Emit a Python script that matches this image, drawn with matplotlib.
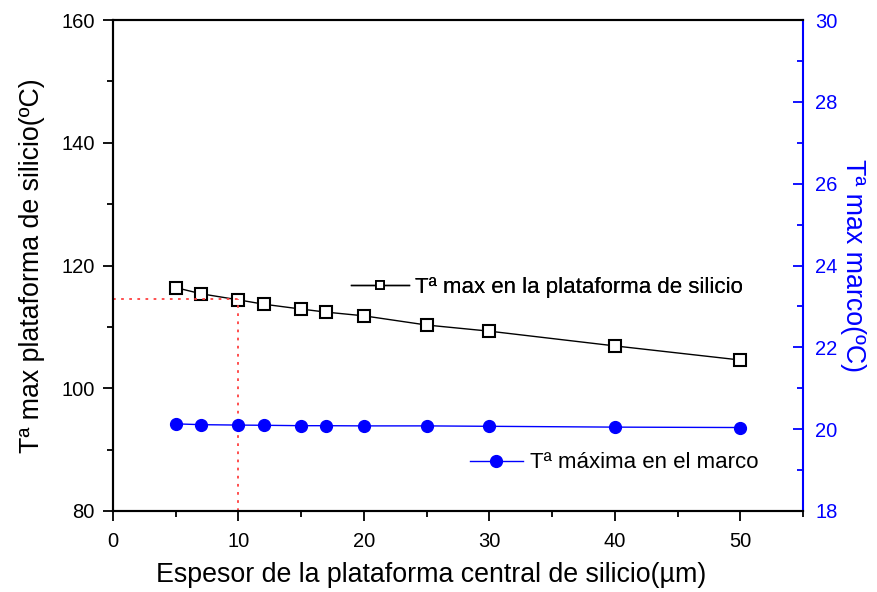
import matplotlib
matplotlib.use("Agg")
import matplotlib.pyplot as plt
from matplotlib.lines import Line2D
from matplotlib.ticker import MultipleLocator

plt.rcParams['font.family'] = ['Liberation Sans', 'DejaVu Sans']

# Platform thickness (µm)
espesor = [5, 7, 10, 12, 15, 17, 20, 25, 30, 40, 50]
# Maximum temperature on the silicon platform (ºC)
t_plataforma = [116.4, 115.4, 114.4, 113.7, 112.9, 112.4, 111.8, 110.3, 109.3, 106.9, 104.6]
# Maximum temperature on the frame (ºC)
t_marco = [20.13, 20.11, 20.10, 20.095, 20.085, 20.085, 20.08, 20.08, 20.07, 20.05, 20.04]

# Reference point marked with dotted guide lines
ref_x = 10
ref_y = 114.5

BLUE = '#0000ff'

fig = plt.figure(figsize=(8.77, 5.92), dpi=100)
ax = fig.add_axes([113 / 877, 1 - 511 / 592, (803 - 113) / 877, (511 - 20) / 592])
ax2 = ax.twinx()

ax.plot(espesor, t_plataforma, color='black', lw=1, marker='s', ms=8.5,
        mfc='white', mec='black', mew=1.5)
ax.plot([0, ref_x], [ref_y, ref_y], color='#ff4040', ls=(0, (1.5, 3)), lw=1.3)
ax.plot([ref_x, ref_x], [80, ref_y], color='#ff4040', ls=(0, (1.5, 3)), lw=1.3)

ax2.plot(espesor, t_marco, color=BLUE, lw=1, marker='o', ms=8.5,
         mfc=BLUE, mec=BLUE)

ax.set_xlim(0, 55)
ax.set_ylim(80, 160)
ax2.set_ylim(18, 30)

ax.xaxis.set_major_locator(MultipleLocator(10))
ax.xaxis.set_minor_locator(MultipleLocator(5))
ax.yaxis.set_major_locator(MultipleLocator(20))
ax.yaxis.set_minor_locator(MultipleLocator(10))
ax2.yaxis.set_major_locator(MultipleLocator(2))
ax2.yaxis.set_minor_locator(MultipleLocator(1))

ax.tick_params(axis='both', which='major', direction='out', length=7, width=1.3,
               labelsize=14.5, colors='black')
ax.tick_params(axis='x', which='major', pad=8)
ax.tick_params(axis='y', which='major', pad=6)
ax.tick_params(axis='both', which='minor', direction='out', length=4, width=1.3)
ax.tick_params(axis='y', right=False)
ax.tick_params(axis='x', top=False, which='both')
ax2.tick_params(axis='y', which='major', direction='in', length=7, width=1.3,
                labelsize=14.5, colors=BLUE, pad=9)
ax2.tick_params(axis='y', which='minor', direction='in', length=4, width=1.3,
                colors=BLUE)

for s in ['left', 'bottom', 'top']:
    ax.spines[s].set_linewidth(1.5)
    ax2.spines[s].set_linewidth(1.5)
ax2.spines['right'].set_color(BLUE)
ax2.spines['right'].set_linewidth(1.5)
ax.spines['right'].set_visible(False)

ax.set_xlabel('Espesor de la plataforma central de silicio(µm)', fontsize=19.3)
ax.xaxis.set_label_coords(0.461, -0.103)
ax.set_ylabel('Tª max plataforma de silicio(ºC)', fontsize=19.3, labelpad=12)
ax2.set_ylabel('Tª max marco(ºC)', fontsize=19.3, color=BLUE, rotation=270,
               labelpad=20)

h1 = Line2D([], [], color='black', lw=1, marker='s', ms=6, mfc='white',
            mec='black', mew=1.3)
h2 = Line2D([], [], color=BLUE, lw=1, marker='o', ms=8.5, mfc=BLUE, mec=BLUE)

leg1 = ax.legend([h1], ['Tª max en la plataforma de silicio'], loc='center left',
                 bbox_to_anchor=(0.345, 0.455), frameon=False, fontsize=16,
                 handlelength=2.6, handletextpad=0.3, borderpad=0, borderaxespad=0)
ax.add_artist(leg1)
ax2.legend([h2], ['Tª máxima en el marco'], loc='center left',
           bbox_to_anchor=(0.517, 0.098), frameon=False, fontsize=16,
           handlelength=2.4, handletextpad=0.3, borderpad=0, borderaxespad=0)

fig.savefig('out.png', dpi=100)
